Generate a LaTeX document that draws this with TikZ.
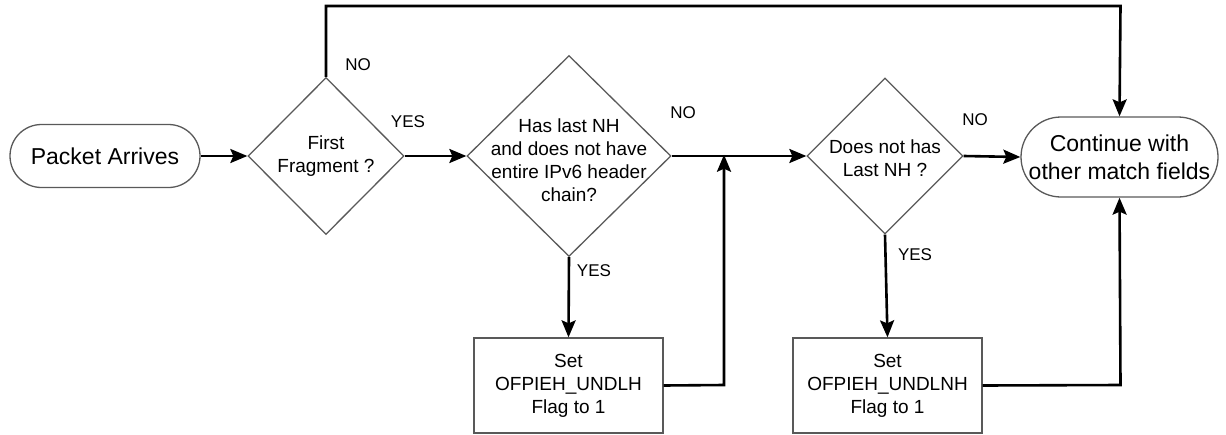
\documentclass[tikz,border=0pt]{standalone}
\usepackage{fontspec}
\setmainfont{Liberation Sans}
\usetikzlibrary{shapes.geometric,shapes.misc,arrows.meta}
\begin{document}
\begin{tikzpicture}[x=1pt,y=-1pt,
  shapeline/.style={draw=black!65,line width=1.3pt},
  term/.style={shapeline,rounded rectangle,inner sep=0pt,align=center,
    font=\fontsize{23}{28}\selectfont},
  dia/.style={shapeline,diamond,inner sep=0pt},
  diatext/.style={align=center,inner sep=0pt,font=\fontsize{19}{23}\selectfont},
  proc/.style={shapeline,rectangle,inner sep=0pt,align=center,
    font=\fontsize{19}{23}\selectfont},
  lbl/.style={inner sep=0pt,font=\fontsize{17}{20}\selectfont},
  flow/.style={draw=black,line width=2.6pt,
    -{Stealth[length=17pt,width=14pt,inset=3pt]}}]
\useasboundingbox (0,0) rectangle (1226,434);

% start / end terminators
\node[term,minimum width=190pt,minimum height=63pt] (start) at (105,156) {Packet Arrives};
\node[term,minimum width=197pt,minimum height=80pt] (cont) at (1119.5,157) {Continue with\\other match fields};

% decisions
\node[dia,minimum width=156pt,minimum height=157pt] (d1) at (326,156) {};
\node[diatext] at (d1) {First\\Fragment ?};
\node[dia,minimum width=204pt,minimum height=201pt] (d2) at (569,156) {};
\node[diatext] at ([yshift=-4pt]d2.center) {Has last NH\\and does not have\\entire IPv6 header\\chain?};
\node[dia,minimum width=156pt,minimum height=156pt] (d3) at (885,156) {};
\node[diatext] at ([yshift=-2pt]d3.center) {Does not has\\Last NH ?};

% flag-setting steps
\node[proc,minimum width=189pt,minimum height=95pt] (s1) at (568.5,385.5) {Set\\OFPIEH\_UNDLH\\Flag to 1};
\node[proc,minimum width=189pt,minimum height=95pt] (s2) at (887.5,385.5) {Set\\OFPIEH\_UNDLNH\\Flag to 1};

% bend points
\coordinate (topL) at (326,6);
\coordinate (topR) at (1120.5,6);
\coordinate (j1) at (724,385);
\coordinate (j1top) at (724,156);
\coordinate (j2) at (1120.5,385);

% connectors
\draw[flow] (start.east) -- (d1.west);
\draw[flow] (d1.east) -- (d2.west);
\draw[flow] (d2.east) -- (d3.west);
\draw[flow] (d3.east) -- (cont.west);
\draw[flow] (d1.north) -- (topL) -- (topR) -- (cont.north);
\draw[flow] (d2.south) -- (s1.north);
\draw[flow] (d3.south) -- (s2.north);
\draw[flow] (s1.east) -- (j1) -- ([yshift=1.3pt]j1top);
\draw[flow] (s2.east) -- (j2) -- (cont.south);

% branch labels
\node[lbl] (l1) at (358,65) {NO};
\node[lbl] (l2) at (408,122) {YES};
\node[lbl] (l3) at (683,113) {NO};
\node[lbl] (l4) at (594,271) {YES};
\node[lbl] (l5) at (975,120) {NO};
\node[lbl] (l6) at (915,255) {YES};
\end{tikzpicture}
\end{document}
